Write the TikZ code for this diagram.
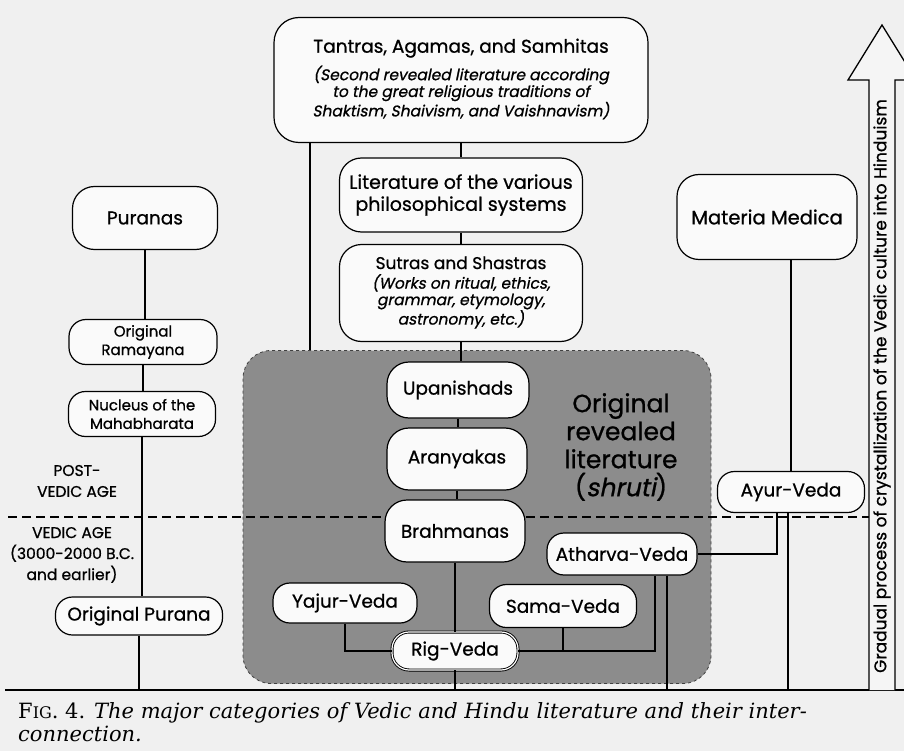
\documentclass[tikz,border=0pt]{standalone}
\usepackage{fontspec}
\newfontfamily\gothic{Poppins}[FakeBold=0.8]
\newfontfamily\gothicsl{Poppins}[FakeSlant=0.2, FakeBold=0.8]
\newfontfamily\capfont{DejaVu Serif}
\newcommand{\subfont}{\gothicsl\fontsize{15.5}{16.5}\selectfont}
\newcommand{\subtext}[1]{{\subfont\begin{tabular}{@{}c@{}}#1\end{tabular}}}
\usetikzlibrary{calc}

\begin{document}
\begin{tikzpicture}[
    x=1pt, y=-1pt,
    lit/.style={draw=black, line width=1.2pt, fill=black!2, rounded corners=22pt,
        align=center, inner sep=1pt, font=\gothic\fontsize{18.5}{22}\selectfont},
    smalllit/.style={lit, rounded corners=17pt},
    twoline/.style={smalllit, font=\gothic\fontsize{15}{18.5}\selectfont},
    link/.style={line width=1.6pt, black},
    eraline/.style={line width=1.6pt, dash pattern=on 9pt off 5pt},
    shrutibox/.style={draw=black!75, fill=black!45, dashed, line width=0.8pt, rounded corners=28pt},
    agelbl/.style={font=\gothic\fontsize{15.5}{21}\selectfont, align=center},
]
\useasboundingbox (0,0) rectangle (904,751);
\fill[black!6] (0,0) rectangle (904,751);

% -- revealed literature area --
\node[shrutibox, minimum width=468pt, minimum height=333pt] (orig) at (477,517) {};
\node[font=\gothic\fontsize{25}{28}\selectfont, align=center] (shruti) at (621,447)
    {Original\\revealed\\literature\\({\gothicsl shruti})};

% -- Vedic / post-Vedic boundary --
\coordinate (eraL) at (8,517);
\coordinate (eraR) at (870,517);
\draw[eraline] (eraL) -- (eraR);
\node[agelbl] (post) at (77,481) {POST-\\VEDIC AGE};
\node[agelbl] (vedic) at (72,555) {VEDIC AGE\\(3000-2000 B.C.\\and earlier)};

% -- base line --
\coordinate (baseL) at (5,690);
\coordinate (baseR) at (904,690);

% -- central column --
\node[lit, minimum width=374pt, minimum height=125pt, rounded corners=25pt] (tantra) at (461,80)
    {Tantras, Agamas, and Samhitas\\[7pt]\subtext{(Second revealed literature according\\to the great religious traditions of\\Shaktism, Shaivism, and Vaishnavism)}};
\node[lit, minimum width=243pt, minimum height=74pt, font=\gothic\fontsize{19}{22}\selectfont] (philo) at (461,195)
    {Literature of the various\\philosophical systems};
\node[lit, minimum width=243pt, minimum height=97pt, font=\gothic\fontsize{17}{20}\selectfont] (sutra) at (461,293)
    {Sutras and Shastras\\[4pt]\subtext{(Works on ritual, ethics,\\grammar, etymology,\\astronomy, etc.)}};
\node[lit, minimum width=142pt, minimum height=56pt] (upan) at (458,390) {Upanishads};
\node[lit, minimum width=140pt, minimum height=62pt] (aran) at (457,459) {Aranyakas};
\node[lit, minimum width=140pt, minimum height=62pt] (brah) at (455,531) {Brahmanas};
\node[smalllit, minimum width=144pt, minimum height=40pt] (yajur) at (345,603) {Yajur-Veda};
\node[smalllit, minimum width=147pt, minimum height=43pt] (sama) at (563,606) {Sama-Veda};
\node[smalllit, minimum width=150pt, minimum height=42pt] (athar) at (622,554) {Atharva-Veda};
\node[smalllit, double, double distance=1.2pt, line width=0.9pt, minimum width=126pt, minimum height=38pt] (rig) at (455,651) {Rig-Veda};

% -- left column --
\node[lit, minimum width=145pt, minimum height=63pt] (puranas) at (145,218) {Puranas};
\node[twoline, minimum width=148pt, minimum height=45pt] (ramay) at (143,342) {Original\\Ramayana};
\node[twoline, minimum width=147pt, minimum height=45pt] (nucleus) at (142,414) {Nucleus of the\\Mahabharata};
\node[smalllit, minimum width=167pt, minimum height=38pt] (origpur) at (139,616) {Original Purana};

% -- right column --
\node[lit, minimum width=180pt, minimum height=85pt, font=\gothic\fontsize{19.5}{22}\selectfont] (materia) at (767,217) {Materia Medica};
\node[smalllit, minimum width=147pt, minimum height=41pt] (ayur) at (791,492) {Ayur-Veda};

% -- connectors --
\draw[link] ([xshift=-151pt]tantra.south) -- ([xshift=-151pt]tantra.south |- orig.north);
\draw[link] (tantra) -- (philo);
\draw[link] (philo) -- (sutra);
\draw[link] (sutra.south) -- (sutra.south |- upan.north);
\draw[link] (upan.south) -- (upan.south |- aran.north);
\draw[link] (aran.south) -- (aran.south |- brah.north);
\draw[link] (brah) -- (rig);
\draw[link] (rig.south) -- (rig.south |- baseL);
\draw[link] (yajur.south) |- (rig.west);
\draw[link] (rig.east) -| ([xshift=33pt]athar.south);
\draw[link] (sama.south) -- (sama.south |- rig.east);
\draw[link] ([xshift=45pt]athar.south) -- ([xshift=45pt]athar.south |- baseL);
\draw[link] (athar.east) -| ([xshift=-14pt]ayur.south);
\draw[link] ([xshift=-3pt]ayur.south) -- ([xshift=-3pt]ayur.south |- baseL);
\draw[link] ([xshift=24pt]materia.south) -- ([xshift=24pt]materia.south |- ayur.north);
\draw[link] (puranas.south) -- (puranas.south |- ramay.north);
\draw[link] (ramay.south) -- (ramay.south |- nucleus.north);
\draw[link] (nucleus.south) -- (nucleus.south |- origpur.north);
\draw[link] (origpur.south) -- (origpur.south |- baseL);
\draw[line width=2pt] (baseL) -- (baseR);

% -- crystallization arrow --
\draw[line width=1.3pt, fill=black!4, line join=miter]
    (869,690) -- (869,80) -- (848,80) -- (882,25) -- (916,80) -- (895,80) -- (895,690);
\node[rotate=90, font=\gothic\fontsize{17}{18}\selectfont, inner sep=0pt] (crystal) at (882,386)
    {Gradual process of crystallization of the Vedic culture into Hinduism};

% -- caption --
\node[anchor=north west, align=left, inner sep=0pt, font=\capfont\fontsize{21}{23}\selectfont] (caption) at (18,702)
    {F{\fontsize{16}{16}\selectfont IG}. 4. \textit{The major categories of Vedic and Hindu literature and their inter-}\\\textit{connection.}};
\end{tikzpicture}
\end{document}
